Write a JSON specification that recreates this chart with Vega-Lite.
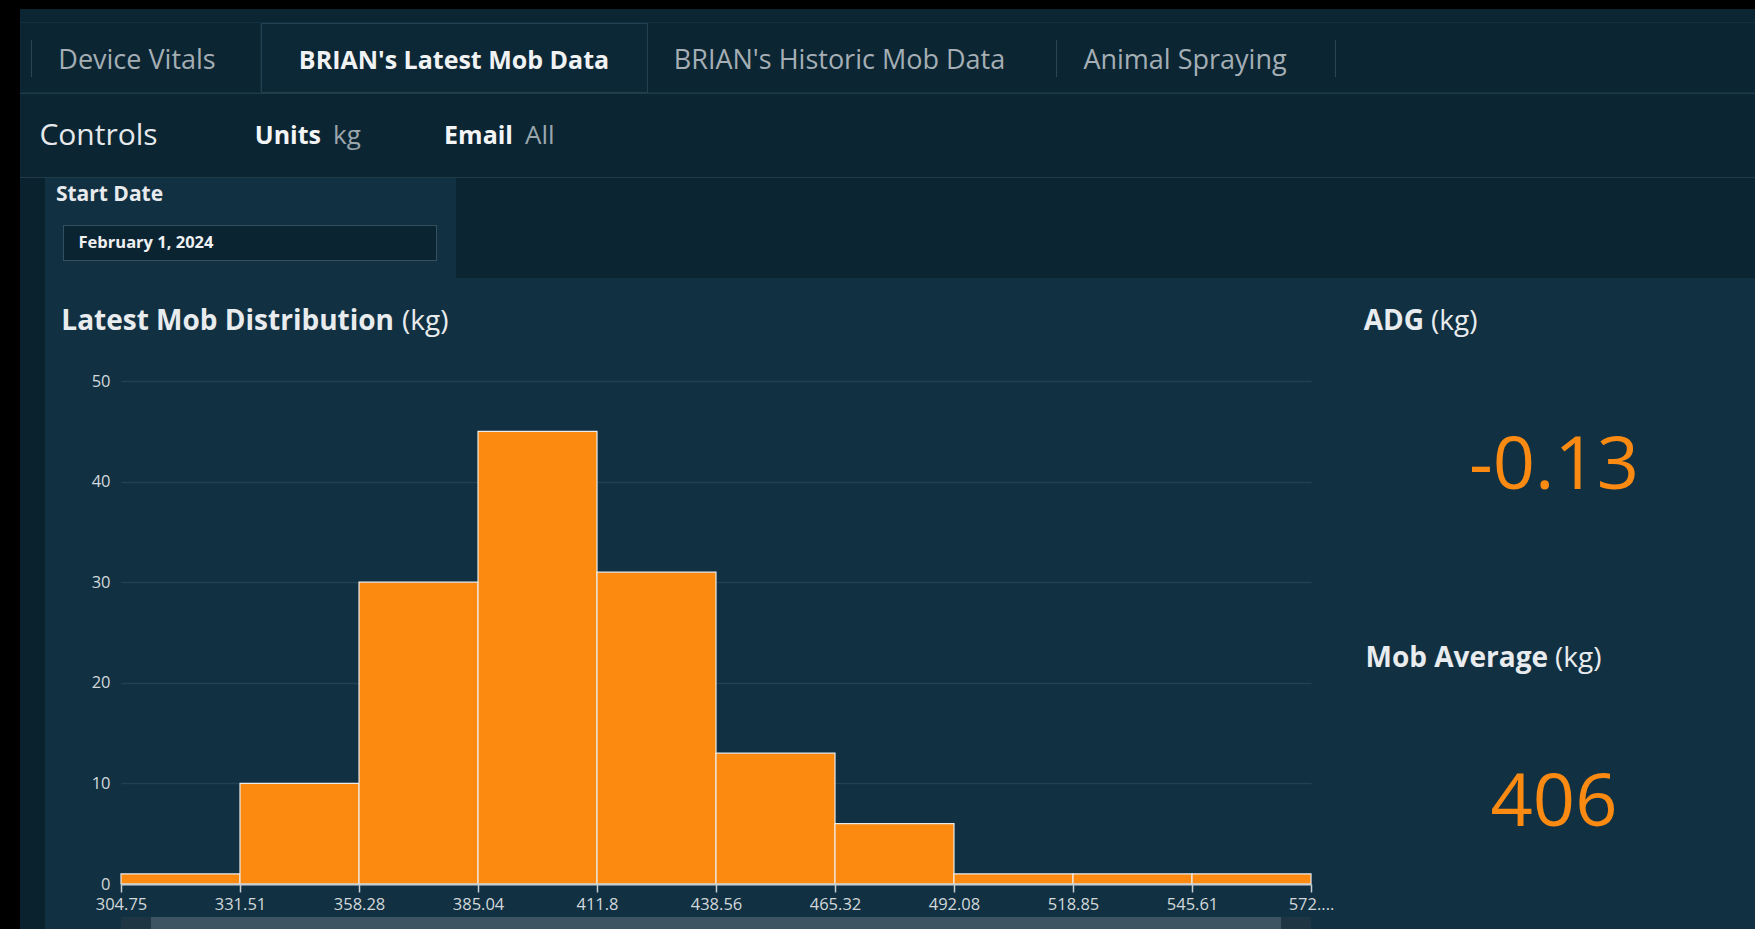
{
 "$schema": "https://vega.github.io/schema/vega-lite/v6.json",
 "padding": 0,
 "background": "#113142",
 "config": {"view": {"stroke": null}, "font": "Open Sans", "text": {"font": "Open Sans"}},
 "data": {"values": [
   {"bin_start": 304.75, "bin_end": 331.51, "count": 1},
   {"bin_start": 331.51, "bin_end": 358.28, "count": 10},
   {"bin_start": 358.28, "bin_end": 385.04, "count": 30},
   {"bin_start": 385.04, "bin_end": 411.8, "count": 45},
   {"bin_start": 411.8, "bin_end": 438.56, "count": 31},
   {"bin_start": 438.56, "bin_end": 465.32, "count": 13},
   {"bin_start": 465.32, "bin_end": 492.08, "count": 6},
   {"bin_start": 492.08, "bin_end": 518.85, "count": 1},
   {"bin_start": 518.85, "bin_end": 545.61, "count": 1},
   {"bin_start": 545.61, "bin_end": 572.37, "count": 1}
 ]},
 "spacing": 0,
 "hconcat": [
  {"width": 20, "height": 929, "mark": {"type": "text", "text": "", "fontSize": 0}, "view": {"fill": "#000000"}},
  {"spacing": 0, "vconcat": [
    {"width": 1735, "height": 9, "mark": {"type": "text", "text": "", "fontSize": 0}, "view": {"fill": "#000000"}},
    {"width": 1735, "height": 13, "mark": {"type": "text", "text": "", "fontSize": 0}, "view": {"fill": "#0b2533"}},
    {"spacing": 0, "hconcat": [
      {"width": 11, "height": 69, "mark": {"type": "text", "text": "", "fontSize": 0}, "view": {"fill": "#0b2533"}},
      {"spacing": 0, "vconcat": [
        {"width": 1, "height": 17, "mark": {"type": "text", "text": "", "fontSize": 0}, "view": {"fill": "#0b2533"}},
        {"width": 1, "height": 37, "mark": {"type": "text", "text": "", "fontSize": 0}, "view": {"fill": "#2a4654"}},
        {"width": 1, "height": 15, "mark": {"type": "text", "text": "", "fontSize": 0}, "view": {"fill": "#0b2533"}}
      ]},
      {"width": 210, "height": 69, "data": {"values": [{"label": "Device Vitals"}]}, "mark": {"type": "text", "dy": 3, "fontSize": 27, "fontWeight": 400, "fill": "#a4aeb4"}, "encoding": {"text": {"field": "label"}}, "view": {"fill": "#0b2533"}},
      {"width": 18, "height": 69, "mark": {"type": "text", "text": "", "fontSize": 0}, "view": {"fill": "#0b2533"}},
      {"width": 386, "height": 69, "data": {"values": [{"label": "BRIAN's Latest Mob Data"}]}, "mark": {"type": "text", "dy": 3, "fontSize": 25, "fontWeight": 700, "fill": "#f0f2f3"}, "encoding": {"text": {"field": "label"}}, "view": {"fill": "#0c2735", "stroke": "#24404e"}},
      {"width": 383, "height": 69, "data": {"values": [{"label": "BRIAN's Historic Mob Data"}]}, "mark": {"type": "text", "dy": 3, "fontSize": 27, "fontWeight": 400, "fill": "#a4aeb4"}, "encoding": {"text": {"field": "label"}}, "view": {"fill": "#0b2533"}},
      {"width": 25, "height": 69, "mark": {"type": "text", "text": "", "fontSize": 0}, "view": {"fill": "#0b2533"}},
      {"spacing": 0, "vconcat": [
        {"width": 1, "height": 17, "mark": {"type": "text", "text": "", "fontSize": 0}, "view": {"fill": "#0b2533"}},
        {"width": 1, "height": 37, "mark": {"type": "text", "text": "", "fontSize": 0}, "view": {"fill": "#2a4654"}},
        {"width": 1, "height": 15, "mark": {"type": "text", "text": "", "fontSize": 0}, "view": {"fill": "#0b2533"}}
      ]},
      {"width": 256, "height": 69, "data": {"values": [{"label": "Animal Spraying"}]}, "mark": {"type": "text", "dy": 3, "fontSize": 27, "fontWeight": 400, "fill": "#a4aeb4"}, "encoding": {"text": {"field": "label"}}, "view": {"fill": "#0b2533"}},
      {"width": 22, "height": 69, "mark": {"type": "text", "text": "", "fontSize": 0}, "view": {"fill": "#0b2533"}},
      {"spacing": 0, "vconcat": [
        {"width": 1, "height": 17, "mark": {"type": "text", "text": "", "fontSize": 0}, "view": {"fill": "#0b2533"}},
        {"width": 1, "height": 37, "mark": {"type": "text", "text": "", "fontSize": 0}, "view": {"fill": "#2a4654"}},
        {"width": 1, "height": 15, "mark": {"type": "text", "text": "", "fontSize": 0}, "view": {"fill": "#0b2533"}}
      ]},
      {"width": 421, "height": 69, "mark": {"type": "text", "text": "", "fontSize": 0}, "view": {"fill": "#0b2533"}}
    ]},
    {"width": 1735, "height": 1, "mark": {"type": "text", "text": "", "fontSize": 0}, "view": {"fill": "#1f3b49"}},
    {"spacing": 0, "hconcat": [
      {"width": 157, "height": 83, "data": {"values": [{"label": "Controls"}]}, "mark": {"type": "text", "fontSize": 30, "fontWeight": 400, "fill": "#e6e9eb"}, "encoding": {"text": {"field": "label"}}, "view": {"fill": "#0b2533"}},
      {"width": 74, "height": 83, "mark": {"type": "text", "text": "", "fontSize": 0}, "view": {"fill": "#0b2533"}},
      {"width": 140, "height": 83, "data": {"values": [{"a": "Units", "b": "kg"}]}, "view": {"fill": "#0b2533"}, "layer": [
        {"mark": {"type": "text", "align": "right", "fontSize": 25, "fontWeight": 700, "fill": "#f3f5f6"}, "encoding": {"text": {"field": "a"}}},
        {"mark": {"type": "text", "align": "left", "dx": 12, "fontSize": 26, "fontWeight": 400, "fill": "#9aa5ac"}, "encoding": {"text": {"field": "b"}}}
      ]},
      {"width": 47, "height": 83, "mark": {"type": "text", "text": "", "fontSize": 0}, "view": {"fill": "#0b2533"}},
      {"width": 150, "height": 83, "data": {"values": [{"a": "Email", "b": "All"}]}, "view": {"fill": "#0b2533"}, "layer": [
        {"mark": {"type": "text", "align": "right", "fontSize": 25, "fontWeight": 700, "fill": "#f3f5f6"}, "encoding": {"text": {"field": "a"}}},
        {"mark": {"type": "text", "align": "left", "dx": 12, "fontSize": 26, "fontWeight": 400, "fill": "#9aa5ac"}, "encoding": {"text": {"field": "b"}}}
      ]},
      {"width": 1167, "height": 83, "mark": {"type": "text", "text": "", "fontSize": 0}, "view": {"fill": "#0b2533"}}
    ]},
    {"width": 1735, "height": 1, "mark": {"type": "text", "text": "", "fontSize": 0}, "view": {"fill": "#1f3b49"}},
    {"spacing": 0, "hconcat": [
      {"width": 25, "height": 100, "mark": {"type": "text", "text": "", "fontSize": 0}, "view": {"fill": "#0a222e"}},
      {"spacing": 0, "vconcat": [
        {"spacing": 0, "hconcat": [
          {"width": 129, "height": 34, "data": {"values": [{"label": "Start Date"}]}, "mark": {"type": "text", "fontSize": 21, "fontWeight": 700, "fill": "#e8ebed"}, "encoding": {"text": {"field": "label"}}},
          {"width": 282, "height": 34, "mark": {"type": "text", "text": "", "fontSize": 0}}
        ]},
        {"width": 411, "height": 13, "mark": {"type": "text", "text": "", "fontSize": 0}},
        {"spacing": 0, "hconcat": [
          {"width": 18, "height": 36, "mark": {"type": "text", "text": "", "fontSize": 0}},
          {"spacing": 0, "vconcat": [
            {"width": 374, "height": 1, "mark": {"type": "text", "text": "", "fontSize": 0}, "view": {"fill": "#34505e"}},
            {"spacing": 0, "hconcat": [
              {"width": 1, "height": 34, "mark": {"type": "text", "text": "", "fontSize": 0}, "view": {"fill": "#34505e"}},
              {"width": 164, "height": 34, "data": {"values": [{"label": "February 1, 2024"}]}, "mark": {"type": "text", "fontSize": 16.5, "fontWeight": 700, "fill": "#eef0f1"}, "encoding": {"text": {"field": "label"}}, "view": {"fill": "#0b2431"}},
              {"width": 208, "height": 34, "mark": {"type": "text", "text": "", "fontSize": 0}, "view": {"fill": "#0b2431"}},
              {"width": 1, "height": 34, "mark": {"type": "text", "text": "", "fontSize": 0}, "view": {"fill": "#34505e"}}
            ]},
            {"width": 374, "height": 1, "mark": {"type": "text", "text": "", "fontSize": 0}, "view": {"fill": "#34505e"}}
          ]},
          {"width": 19, "height": 36, "mark": {"type": "text", "text": "", "fontSize": 0}}
        ]},
        {"width": 411, "height": 17, "mark": {"type": "text", "text": "", "fontSize": 0}}
      ]},
      {"width": 1299, "height": 100, "mark": {"type": "text", "text": "", "fontSize": 0}, "view": {"fill": "#0b2533"}}
    ]},
    {"spacing": 0, "hconcat": [
      {"width": 25, "height": 653, "mark": {"type": "text", "text": "", "fontSize": 0}, "view": {"fill": "#0a222e"}},
      {"spacing": 0, "vconcat": [
        {"spacing": 0, "hconcat": [
          {"width": 698, "height": 88, "data": {"values": [{"a": "Latest Mob Distribution", "b": "(kg)"}]}, "layer": [
            {"mark": {"type": "text", "align": "right", "fontSize": 28, "fontWeight": 700, "fill": "#e9ecee"}, "encoding": {"text": {"field": "a"}}},
            {"mark": {"type": "text", "align": "left", "dx": 8, "fontSize": 28, "fontWeight": 400, "fill": "#e9ecee"}, "encoding": {"text": {"field": "b"}}}
          ]},
          {"width": 611, "height": 88, "mark": {"type": "text", "text": "", "fontSize": 0}},
          {"width": 140, "height": 88, "data": {"values": [{"a": "ADG", "b": "(kg)"}]}, "layer": [
            {"mark": {"type": "text", "align": "right", "fontSize": 28, "fontWeight": 700, "fill": "#e9ecee"}, "encoding": {"text": {"field": "a"}}},
            {"mark": {"type": "text", "align": "left", "dx": 7, "fontSize": 28, "fontWeight": 400, "fill": "#e9ecee"}, "encoding": {"text": {"field": "b"}}}
          ]},
          {"width": 261, "height": 88, "mark": {"type": "text", "text": "", "fontSize": 0}}
        ]},
        {"spacing": 0, "hconcat": [
          {"spacing": 0, "vconcat": [
            {"width": 1308, "height": 551,
             "mark": {"type": "rect", "fill": "#fd8a10", "stroke": "#ececec", "strokeWidth": 1.2},
             "encoding": {
               "x": {"field": "bin_start", "type": "quantitative",
                     "scale": {"domain": [304.75, 572.37], "range": [76, 1266], "nice": false, "zero": false},
                     "axis": {"title": null, "offset": -33,
                              "values": [304.75, 331.51, 358.28, 385.04, 411.8, 438.56, 465.32, 492.08, 518.85, 545.61, 572.37],
                              "labelExpr": "datum.value > 572 ? '572....' : (datum.value == 411.8 ? '411.8' : format(datum.value, '.2f'))",
                              "grid": false, "zindex": 1, "domainColor": "#c8ced2", "domainWidth": 2,
                              "tickColor": "#c8ced2", "tickSize": 8, "tickWidth": 1.5,
                              "labelColor": "#d2d8db", "labelFontSize": 16.5, "labelPadding": 4,
                              "labelFlush": false, "labelOverlap": false}},
               "x2": {"field": "bin_end"},
               "y": {"field": "count", "type": "quantitative",
                     "scale": {"domain": [0, 50], "range": [518, 15], "nice": false},
                     "axis": {"title": null, "offset": -76, "values": [0, 10, 20, 30, 40, 50], "domain": false, "ticks": false,
                              "grid": true, "gridColor": "#214254", "gridWidth": 1.5,
                              "labelColor": "#d2d8db", "labelFontSize": 16.5, "labelPadding": 11}},
               "y2": {"datum": 0}
             }},
            {"spacing": 0, "hconcat": [
              {"width": 76, "height": 14, "mark": {"type": "text", "text": "", "fontSize": 0}},
              {"width": 30, "height": 14, "mark": {"type": "text", "text": "", "fontSize": 0}, "view": {"fill": "#1e3644"}},
              {"width": 1130, "height": 14, "mark": {"type": "text", "text": "", "fontSize": 0}, "view": {"fill": "#3d5562"}},
              {"width": 30, "height": 14, "mark": {"type": "text", "text": "", "fontSize": 0}, "view": {"fill": "#1e3644"}},
              {"width": 42, "height": 14, "mark": {"type": "text", "text": "", "fontSize": 0}}
            ]}
          ]},
          {"spacing": 0, "vconcat": [
            {"width": 402, "height": 196, "data": {"values": [{"label": "-0.13"}]}, "mark": {"type": "text", "dy": 3, "fontSize": 74, "fontWeight": 400, "fill": "#fb8a12"}, "encoding": {"text": {"field": "label"}}},
            {"spacing": 0, "hconcat": [
              {"width": 5, "height": 194, "mark": {"type": "text", "text": "", "fontSize": 0}},
              {"width": 380, "height": 194, "data": {"values": [{"a": "Mob Average", "b": "(kg)"}]}, "layer": [
                {"mark": {"type": "text", "align": "right", "fontSize": 28, "fontWeight": 700, "fill": "#e9ecee"}, "encoding": {"text": {"field": "a"}}},
                {"mark": {"type": "text", "align": "left", "dx": 7, "fontSize": 28, "fontWeight": 400, "fill": "#e9ecee"}, "encoding": {"text": {"field": "b"}}}
              ]},
              {"width": 17, "height": 194, "mark": {"type": "text", "text": "", "fontSize": 0}}
            ]},
            {"width": 402, "height": 92, "data": {"values": [{"label": "406"}]}, "mark": {"type": "text", "dy": 2, "fontSize": 74, "fontWeight": 400, "fill": "#fb8a12"}, "encoding": {"text": {"field": "label"}}},
            {"width": 402, "height": 83, "mark": {"type": "text", "text": "", "fontSize": 0}}
          ]}
        ]}
      ]}
    ]}
  ]}
 ]
}
